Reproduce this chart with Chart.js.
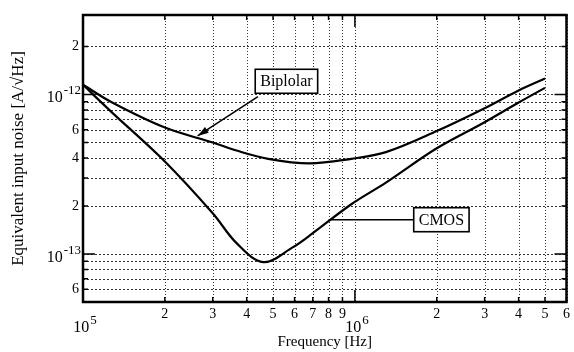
<!DOCTYPE html>
<html>
<head>
<meta charset="utf-8">
<script src="https://cdn.jsdelivr.net/npm/chart.js@4.4.1/dist/chart.umd.min.js"></script>
<style>
  html, body { margin: 0; padding: 0; background: #fff; }
  #wrap { width: 574px; height: 352px; }
</style>
</head>
<body>
<div id="wrap"><canvas id="chart"></canvas></div>
<script>
// curve points (frequency in Hz, noise in A/rtHz)
const bipolarFreq = [1e5, 1.28e5, 2e5, 3e5, 3.67e5, 4.8e5, 6.8e5, 9.7e5, 1.3e6, 2e6, 3e6, 4e6, 5e6];
const bipolarNoise = [1.15e-12, 8.9e-13, 6.2e-13, 5.0e-13, 4.45e-13, 3.95e-13, 3.7e-13, 3.95e-13, 4.35e-13, 5.9e-13, 8.2e-13, 1.06e-12, 1.26e-12];
const cmosFreq = [1e5, 1.28e5, 2e5, 3e5, 3.67e5, 4.6e5, 5.9e5, 7e5, 9.7e5, 1.3e6, 2e6, 3e6, 4e6, 5e6];
const cmosNoise = [1.15e-12, 7.7e-13, 3.8e-13, 1.8e-13, 1.17e-13, 8.9e-14, 1.1e-13, 1.35e-13, 2.05e-13, 2.8e-13, 4.6e-13, 6.7e-13, 8.9e-13, 1.1e-12];

const xTickValues = [1e5, 2e5, 3e5, 4e5, 5e5, 6e5, 7e5, 8e5, 9e5, 1e6, 2e6, 3e6, 4e6, 5e6, 6e6];
const xTickLabels = ["10^5", "2", "3", "4", "5", "6", "7", "8", "9", "10^6", "2", "3", "4", "5", "6"];
const yTickValues = [2e-12, 1e-12, 9e-13, 8e-13, 7e-13, 6e-13, 5e-13, 4e-13, 3e-13, 2e-13, 1e-13, 9e-14, 8e-14, 7e-14, 6e-14];
const yTickLabels = ["2", "10^-12", "", "", "", "6", "", "4", "", "2", "10^-13", "", "", "", "6"];

// callouts, anchored in data coordinates
const bipolarNote = { text: "Biplolar", box: [5.6e5, 1.21e-12], from: [4.4e5, 0.97e-12], to: [2.64e5, 5.5e-13], arrow: true };
const cmosNote = { text: "CMOS", box: [2.08e6, 1.64e-13], from: null, to: [8.0e5, 1.64e-13], arrow: false };

const serif = "'Liberation Serif', 'DejaVu Serif', serif";

const isDecade = v => Math.abs(Math.log10(v) - Math.round(Math.log10(v))) < 1e-6;

// "10^n" drawn as base plus raised exponent
function drawPower(ctx, label, x, y, align) {
  const [base, exp] = label.split("^");
  ctx.font = "16px " + serif;
  const bw = ctx.measureText(base).width;
  ctx.font = "13px " + serif;
  const ew = ctx.measureText(exp).width;
  const w = bw + 1 + ew;
  const left = align === "right" ? x - w : x - w / 2;
  ctx.textAlign = "left";
  ctx.textBaseline = "alphabetic";
  ctx.font = "16px " + serif;
  ctx.fillText(base, left, y);
  ctx.font = "13px " + serif;
  ctx.fillText(exp, left + bw + 1, y - 8);
}

const gridPlugin = {
  id: "dotgrid",
  beforeDatasetsDraw(chart) {
    const { ctx, chartArea: a, scales } = chart;
    ctx.save();
    ctx.strokeStyle = "#333";
    ctx.lineWidth = 1;
    ctx.setLineDash([1, 2]);
    ctx.beginPath();
    xTickValues.forEach(v => {
      const px = Math.round(scales.x.getPixelForValue(v)) + 0.5;
      ctx.moveTo(px, a.top); ctx.lineTo(px, a.bottom);
    });
    ctx.stroke();
    ctx.setLineDash([2, 2]);
    ctx.beginPath();
    yTickValues.forEach(v => {
      const py = Math.round(scales.y.getPixelForValue(v)) + 0.5;
      ctx.moveTo(a.left, py); ctx.lineTo(a.right, py);
    });
    ctx.stroke();
    ctx.restore();
  }
};

const framePlugin = {
  id: "frame",
  afterDatasetsDraw(chart) {
    const { ctx, chartArea: a, scales } = chart;
    ctx.save();
    ctx.strokeStyle = "#000";
    ctx.fillStyle = "#000";
    // inward ticks on all four sides
    ctx.lineWidth = 1.5;
    ctx.beginPath();
    xTickValues.forEach(v => {
      const px = scales.x.getPixelForValue(v);
      const len = isDecade(v) ? 12 : 5;
      ctx.moveTo(px, a.bottom); ctx.lineTo(px, a.bottom - len);
      ctx.moveTo(px, a.top); ctx.lineTo(px, a.top + len);
    });
    yTickValues.forEach(v => {
      const py = scales.y.getPixelForValue(v);
      const len = isDecade(v) ? 12 : 5;
      ctx.moveTo(a.left, py); ctx.lineTo(a.left + len, py);
      ctx.moveTo(a.right, py); ctx.lineTo(a.right - len, py);
    });
    ctx.stroke();
    ctx.lineWidth = 2.5;
    ctx.strokeRect(a.left, a.top, a.right - a.left, a.bottom - a.top);

    // decade labels
    xTickValues.forEach((v, i) => {
      if (xTickLabels[i].includes("^")) drawPower(ctx, xTickLabels[i], scales.x.getPixelForValue(v) + 2, a.bottom + 30, "center");
    });
    yTickValues.forEach((v, i) => {
      if (yTickLabels[i].includes("^")) drawPower(ctx, yTickLabels[i], a.left - 2, scales.y.getPixelForValue(v) + 8, "right");
    });

    // callouts
    [bipolarNote, cmosNote].forEach(n => {
      ctx.font = "16px " + serif;
      const w = ctx.measureText(n.text).width + 10;
      const h = 24;
      const cx = scales.x.getPixelForValue(n.box[0]);
      const cy = scales.y.getPixelForValue(n.box[1]);
      const bx = cx - w / 2, by = cy - h / 2;
      const tx = scales.x.getPixelForValue(n.to[0]);
      const ty = scales.y.getPixelForValue(n.to[1]);
      const fx = n.from ? scales.x.getPixelForValue(n.from[0]) : bx;
      const fy = n.from ? scales.y.getPixelForValue(n.from[1]) : cy;
      ctx.lineWidth = 1.5;
      ctx.beginPath();
      ctx.moveTo(fx, fy); ctx.lineTo(tx, ty);
      ctx.stroke();
      if (n.arrow) {
        const ang = Math.atan2(ty - fy, tx - fx);
        ctx.beginPath();
        ctx.moveTo(tx, ty);
        ctx.lineTo(tx - 11 * Math.cos(ang) + 3.5 * Math.sin(ang), ty - 11 * Math.sin(ang) - 3.5 * Math.cos(ang));
        ctx.lineTo(tx - 11 * Math.cos(ang) - 3.5 * Math.sin(ang), ty - 11 * Math.sin(ang) + 3.5 * Math.cos(ang));
        ctx.closePath();
        ctx.fill();
      }
      ctx.fillStyle = "#fff";
      ctx.fillRect(bx, by, w, h);
      ctx.lineWidth = 1.6;
      ctx.strokeRect(bx, by, w, h);
      ctx.fillStyle = "#000";
      ctx.textAlign = "center";
      ctx.textBaseline = "middle";
      ctx.fillText(n.text, cx, cy + 1);
    });
    ctx.restore();
  }
};

new Chart(document.getElementById("chart"), {
  type: "line",
  data: {
    datasets: [
      {
        label: "Bipolar",
        data: bipolarFreq.map((f, i) => ({ x: f, y: bipolarNoise[i] })),
        borderColor: "#000",
        borderWidth: 2.2,
        pointRadius: 0,
        tension: 0.35,
        fill: false
      },
      {
        label: "CMOS",
        data: cmosFreq.map((f, i) => ({ x: f, y: cmosNoise[i] })),
        borderColor: "#000",
        borderWidth: 2.2,
        pointRadius: 0,
        tension: 0.35,
        fill: false
      }
    ]
  },
  options: {
    responsive: true,
    maintainAspectRatio: false,
    animation: false,
    layout: { padding: { top: 15, right: 4, left: 0, bottom: 0 } },
    plugins: {
      legend: { display: false },
      tooltip: { enabled: false }
    },
    scales: {
      x: {
        type: "logarithmic",
        min: 1e5,
        max: 6e6,
        afterBuildTicks: s => { s.ticks = xTickValues.map(v => ({ value: v })); },
        afterFit: s => { s.height = 50; },
        grid: { display: false, drawTicks: false },
        border: { display: false },
        ticks: {
          autoSkip: false,
          maxRotation: 0,
          minRotation: 0,
          padding: 4,
          color: "#000",
          font: { family: serif, size: 14 },
          callback: v => {
            const lab = xTickLabels[xTickValues.indexOf(v)] ?? "";
            return lab.includes("^") ? "" : lab;
          }
        },
        title: {
          display: true,
          text: "Frequency [Hz]",
          color: "#000",
          font: { family: serif, size: 15 },
          padding: { top: 0, bottom: 1 }
        }
      },
      y: {
        type: "logarithmic",
        min: 5e-14,
        max: 3.15e-12,
        afterBuildTicks: s => { s.ticks = yTickValues.map(v => ({ value: v })); },
        afterFit: s => { s.width = 83; },
        grid: { display: false, drawTicks: false },
        border: { display: false },
        ticks: {
          autoSkip: false,
          padding: 4,
          color: "#000",
          font: { family: serif, size: 14 },
          callback: v => {
            const lab = yTickLabels[yTickValues.indexOf(v)] ?? "";
            return lab.includes("^") ? "" : lab;
          }
        },
        title: {
          display: true,
          text: "Equivalent input noise [A/√Hz]",
          color: "#000",
          font: { family: serif, size: 17 },
          padding: { top: 8, bottom: 0 }
        }
      }
    }
  },
  plugins: [gridPlugin, framePlugin]
});
</script>
</body>
</html>
